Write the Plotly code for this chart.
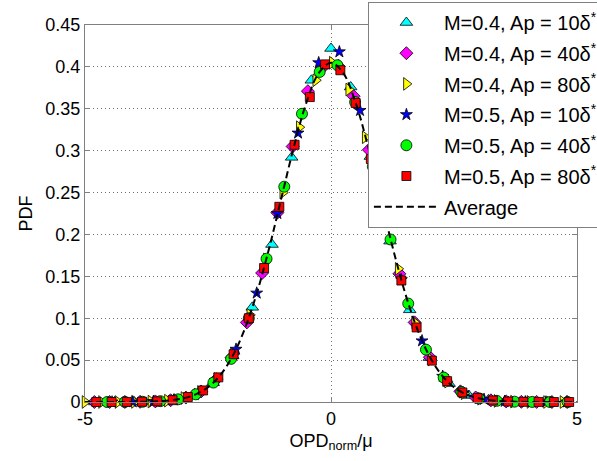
import plotly.graph_objects as go

# ---- data ----
x_m04_ap10 = [-4.8, -4.4, -4.0, -3.6, -3.2, -2.8, -2.4, -2.0, -1.6, -1.2, -0.8, -0.4, 0.0,
              0.4, 0.8, 1.2, 1.6, 2.0, 2.4, 2.8, 3.2, 3.6, 4.0, 4.4, 4.8]
y_m04_ap10 = [0.0, 0.0, 0.0001, 0.0007, 0.0026, 0.0082, 0.023, 0.055, 0.113, 0.188, 0.292, 0.384, 0.422,
              0.376, 0.293, 0.192, 0.110, 0.053, 0.022, 0.0078, 0.0025, 0.0006, 0.0001, 0.0, 0.0]

x_m04_ap40 = [-4.81, -4.50, -4.19, -3.88, -3.57, -3.26, -2.95, -2.64, -2.33, -2.02, -1.71, -1.40, -1.09,
              -0.78, -0.47, -0.16, 0.15, 0.46, 0.77, 1.08, 1.39, 1.70, 2.01, 2.32, 2.63, 2.94, 3.25,
              3.56, 3.87, 4.18, 4.49, 4.80]
y_m04_ap40 = [0.0, 0.0, 0.0001, 0.0002, 0.0007, 0.0021, 0.0053, 0.0126, 0.0272, 0.0530, 0.0950, 0.1540, 0.2260,
              0.3050, 0.3710, 0.4000, 0.4010, 0.3650, 0.3010, 0.2250, 0.1530, 0.0950, 0.0535, 0.0272, 0.0127,
              0.0054, 0.0020, 0.0007, 0.0002, 0.0001, 0.0, 0.0]

x_m04_ap80 = [-5.0, -4.665, -4.33, -3.995, -3.66, -3.325, -2.99, -2.655, -2.32, -1.985, -1.65, -1.315,
              -0.98, -0.645, -0.31, 0.025, 0.36, 0.695, 1.03, 1.365, 1.70, 2.035, 2.37, 2.705, 3.04,
              3.375, 3.71, 4.045, 4.38, 4.715]
y_m04_ap80 = [0.0, 0.0, 0.0, 0.0001, 0.0005, 0.0016, 0.0047, 0.0120, 0.0275, 0.0565, 0.1040, 0.1700,
              0.2500, 0.3280, 0.3840, 0.4050, 0.3730, 0.3160, 0.2370, 0.1590, 0.0950, 0.0508, 0.0243, 0.0104, 0.0039,
              0.0013, 0.0004, 0.0001, 0.0, 0.0]

x_m05_ap10 = [-4.45, -4.03, -3.61, -3.19, -2.77, -2.35, -1.93, -1.51, -1.09, -0.67, -0.25, 0.17,
              0.59, 1.01, 1.43, 1.85, 2.27, 2.69, 3.11, 3.53, 3.95, 4.37, 4.79]
y_m05_ap10 = [0.0, 0.0001, 0.0006, 0.0026, 0.0088, 0.0258, 0.0630, 0.1300, 0.2250, 0.3210, 0.4050, 0.4180,
              0.3480, 0.2430, 0.1460, 0.0730, 0.0306, 0.0108, 0.0032, 0.0008, 0.0002, 0.0, 0.0]

x_m05_ap40 = [-4.55, -4.19, -3.83, -3.47, -3.11, -2.75, -2.39, -2.03, -1.67, -1.31, -0.95, -0.59, -0.23,
              0.13, 0.49, 0.85, 1.21, 1.57, 1.93, 2.29, 2.65, 3.01, 3.37, 3.73, 4.09, 4.45, 4.81]
y_m05_ap40 = [0.0, 0.0001, 0.0003, 0.0010, 0.0032, 0.0092, 0.0232, 0.0515, 0.1000, 0.1710, 0.2570, 0.3440, 0.3940,
              0.4020, 0.3580, 0.2810, 0.1940, 0.1175, 0.0625, 0.0292, 0.0120, 0.0043, 0.0014, 0.0004, 0.0001, 0.0, 0.0]

x_m05_ap80 = [-4.77, -4.46, -4.15, -3.84, -3.53, -3.22, -2.91, -2.60, -2.29, -1.98, -1.67, -1.36, -1.05,
              -0.74, -0.43, -0.12, 0.19, 0.50, 0.81, 1.12, 1.43, 1.74, 2.05, 2.36, 2.67, 2.98, 3.29,
              3.60, 3.91, 4.22, 4.53, 4.84]
y_m05_ap80 = [0.0, 0.0, 0.0001, 0.0003, 0.0008, 0.0022, 0.0059, 0.0138, 0.0294, 0.0570, 0.1000, 0.1600, 0.2330,
              0.3070, 0.3640, 0.4030, 0.3960, 0.3570, 0.2900, 0.2150, 0.1450, 0.0890, 0.0494, 0.0249, 0.0114,
              0.0047, 0.0018, 0.0006, 0.0002, 0.0001, 0.0, 0.0]

x_avg = [-5.0, -4.75, -4.5, -4.25, -4.0, -3.75, -3.5, -3.25, -3.0, -2.75, -2.5, -2.25, -2.0, -1.75,
         -1.5, -1.25, -1.0, -0.75, -0.5, -0.25, 0.0, 0.25, 0.5, 0.75, 1.0, 1.25, 1.5, 1.75, 2.0,
         2.25, 2.5, 2.75, 3.0, 3.25, 3.5, 3.75, 4.0, 4.25, 4.5, 4.75, 5.0]
y_avg = [0.0, 0.0, 0.0, 0.0, 0.0001, 0.0004, 0.0009, 0.0020, 0.0044, 0.0091, 0.0176, 0.0321, 0.0548, 0.0876,
         0.1314, 0.1853, 0.2456, 0.3056, 0.3574, 0.3925, 0.4050, 0.3925, 0.3574, 0.3056, 0.2456, 0.1853,
         0.1314, 0.0876, 0.0548, 0.0321, 0.0176, 0.0091, 0.0044, 0.0020, 0.0009, 0.0004, 0.0001, 0.0, 0.0, 0.0, 0.0]

names = ["M=0.4, Ap = 10δ<sup>*</sup>", "M=0.4, Ap = 40δ<sup>*</sup>", "M=0.4, Ap = 80δ<sup>*</sup>",
         "M=0.5, Ap = 10δ<sup>*</sup>", "M=0.5, Ap = 40δ<sup>*</sup>", "M=0.5, Ap = 80δ<sup>*</sup>"]
xs = [x_m04_ap10, x_m04_ap40, x_m04_ap80, x_m05_ap10, x_m05_ap40, x_m05_ap80]
ys = [y_m04_ap10, y_m04_ap40, y_m04_ap80, y_m05_ap10, y_m05_ap40, y_m05_ap80]
symbols = ["triangle-up", "diamond", "triangle-right", "star", "circle", "square"]
colors = ["#00FFFF", "#FF00FF", "#FFFF00", "#0000FF", "#00FF00", "#FF0000"]
sizes = [11, 10, 11, 9, 11, 9]

FONT = "Arial, Liberation Sans, sans-serif"

fig = go.Figure()
for i in range(6):
    fig.add_trace(go.Scatter(
        x=xs[i], y=ys[i], mode="markers", name=names[i], legendgroup="g%d" % i,
        cliponaxis=False,
        marker=dict(symbol=symbols[i], color=colors[i], size=sizes[i],
                    line=dict(color="black", width=0.8)),
    ))
fig.add_trace(go.Scatter(
    x=x_avg, y=y_avg, mode="lines", name="Average", legendgroup="avg",
    line=dict(color="black", width=2, dash="7px,4px", shape="spline"),
))

axis_common = dict(
    showline=True, linecolor="#808080", linewidth=1, mirror="ticks",
    ticks="inside", ticklen=5, tickcolor="#808080",
    showgrid=True, gridcolor="#707070", griddash="1px,3px", gridwidth=1,
    zeroline=False, tickfont=dict(family=FONT, size=18, color="black"),
)

fig.update_layout(
    width=597, height=461,
    margin=dict(l=85, r=20, t=25, b=59, autoexpand=False),
    paper_bgcolor="white", plot_bgcolor="white",
    font=dict(family=FONT, size=18, color="black"),
    xaxis=dict(range=[-5, 5], tickvals=[-5, 0, 5], ticktext=["-5", "0", "5"],
               title=dict(text="OPD<sub>norm</sub>/μ", font=dict(family=FONT, size=18), standoff=6),
               **axis_common),
    yaxis=dict(range=[0, 0.45], tickvals=[0, 0.05, 0.1, 0.15, 0.2, 0.25, 0.3, 0.35, 0.4, 0.45],
               ticktext=["0", "0.05", "0.1", "0.15", "0.2", "0.25", "0.3", "0.35", "0.4", "0.45"],
               title=dict(text="PDF", font=dict(family=FONT, size=18), standoff=8),
               **axis_common),
    legend=dict(x=0.575, y=1.061, xanchor="left", yanchor="top",
                bgcolor="white", bordercolor="#808080", borderwidth=1,
                font=dict(family=FONT, size=20, color="black"),
                traceorder="grouped", tracegroupgap=1.7, itemwidth=65),
    showlegend=True,
)

fig.write_html("out.html")
